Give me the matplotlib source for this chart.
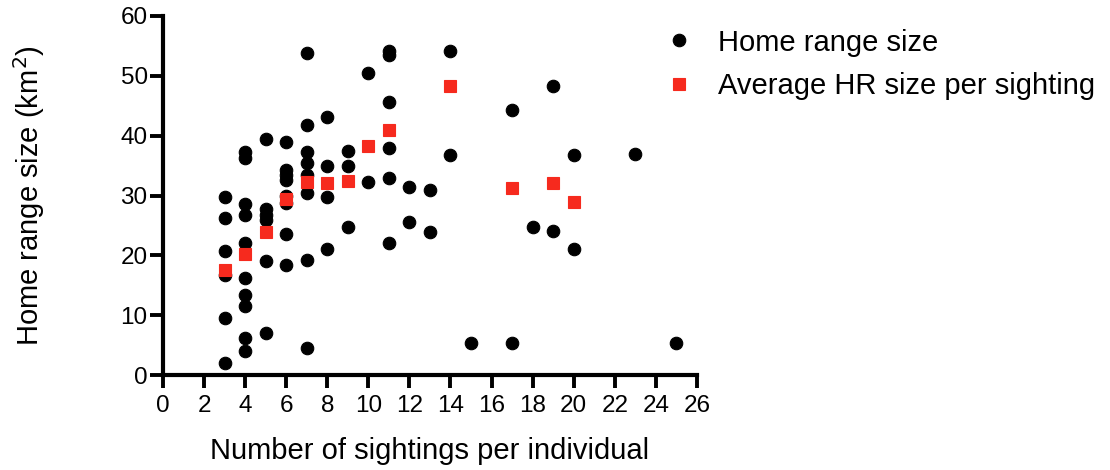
import matplotlib
matplotlib.use("Agg")
import matplotlib.pyplot as plt

plt.rcParams['font.family'] = ['Liberation Sans', 'DejaVu Sans']

# Individual home range sizes (x = sightings, y = km^2)
hr_x = [3, 3, 3, 3, 3, 3,
        4, 4, 4, 4, 4, 4, 4, 4, 4, 4,
        5, 5, 5, 5, 5, 5,
        6, 6, 6, 6, 6, 6, 6, 6,
        7, 7, 7, 7, 7, 7, 7, 7,
        8, 8, 8, 8,
        9, 9, 9,
        10, 10,
        11, 11, 11, 11, 11, 11,
        12, 12,
        13, 13,
        14, 14,
        15,
        17, 17,
        18,
        19, 19,
        20, 20,
        23,
        25]
hr_y = [29.7, 26.3, 20.7, 16.8, 9.6, 2.0,
        37.3, 36.2, 28.5, 26.8, 22.1, 16.3, 13.4, 11.5, 6.2, 4.1,
        39.4, 27.8, 26.8, 25.9, 19.0, 7.0,
        39.0, 34.2, 33.4, 32.6, 30.0, 28.8, 23.5, 18.4,
        53.8, 41.8, 37.3, 35.4, 33.5, 30.4, 19.3, 4.6,
        43.2, 34.9, 29.7, 21.1,
        37.5, 35.0, 24.8,
        50.5, 32.2,
        54.1, 53.5, 45.6, 38.0, 32.9, 22.0,
        31.5, 25.5,
        31.0, 23.9,
        54.1, 36.7,
        5.4,
        44.3, 5.4,
        24.7,
        48.3, 24.1,
        36.7, 21.1,
        37.0,
        5.4]

# Average HR size per number of sightings
avg_x = [3, 4, 5, 6, 7, 8, 9, 10, 11, 14, 17, 19, 20]
avg_y = [17.5, 20.2, 23.9, 29.5, 32.3, 32.1, 32.4, 38.3, 41.0, 48.3, 31.3, 32.1, 28.9]

x_ticks = list(range(0, 27, 2))
y_ticks = list(range(0, 61, 10))

fig = plt.figure(figsize=(11.1, 4.7), dpi=100)
ax = fig.add_axes([0.1468, 0.202, 0.4811, 0.764])

red = '#f62a1e'
ax.plot(hr_x, hr_y, 'o', color='black', markersize=9.0, markeredgewidth=0.8,
        linestyle='none', label='Home range size', zorder=2)
ax.plot(avg_x, avg_y, 's', color=red, markersize=9.2, markeredgewidth=0.8,
        linestyle='none', label='Average HR size per sighting', zorder=3)

ax.set_xlim(0, 26)
ax.set_ylim(0, 60)
ax.set_xticks(x_ticks)
ax.set_yticks(y_ticks)
ax.tick_params(direction='out', length=9.5, width=2.8, labelsize=17.5)
ax.tick_params(axis='x', pad=5)
ax.tick_params(axis='y', pad=1.5)
for side in ['top', 'right']:
    ax.spines[side].set_visible(False)
for side in ['left', 'bottom']:
    ax.spines[side].set_linewidth(3.0)

ax.set_xlabel('Number of sightings per individual', fontsize=21, labelpad=14)
ax.set_ylabel('Home range size (km$^2$)', fontsize=21, labelpad=53)

leg = fig.legend(loc='upper left', bbox_to_anchor=(0.5955, 0.939), frameon=False,
                 fontsize=21, handletextpad=0.76, labelspacing=0.53,
                 handlelength=1.2, borderpad=0, borderaxespad=0)

fig.savefig('out.png', dpi=100)
